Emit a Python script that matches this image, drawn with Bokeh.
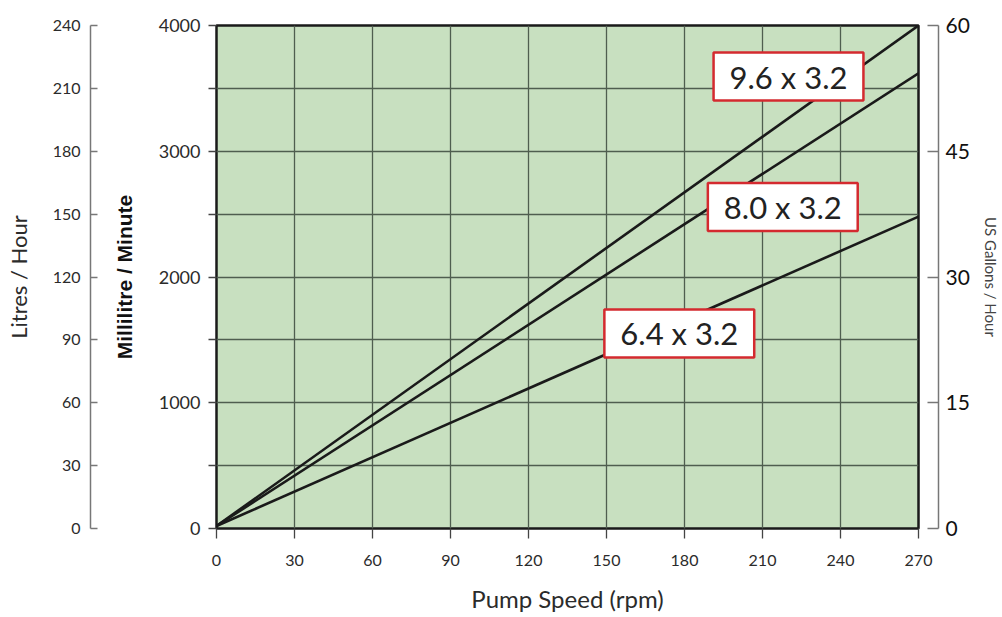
from bokeh.plotting import figure
from bokeh.models import (Range1d, LinearAxis, FixedTicker, Label)
from bokeh.embed import file_html
from bokeh.resources import INLINE

# ---- data ----
speed_rpm = [0, 270]
ml_min_96 = [20, 4000]
ml_min_80 = [20, 3620]
ml_min_64 = [20, 2480]
series_names = ["9.6 x 3.2", "8.0 x 3.2", "6.4 x 3.2"]

x_ticks = [0, 30, 60, 90, 120, 150, 180, 210, 240, 270]
ml_ticks = [0, 1000, 2000, 3000, 4000]
ml_minor = [500, 1500, 2500, 3500]
lph_ticks = [0, 30, 60, 90, 120, 150, 180, 210, 240]
gph_ticks = [0, 15, 30, 45, 60]
grid_y = [0, 500, 1000, 1500, 2000, 2500, 3000, 3500, 4000]

# annotation anchors
label_pos = [(220, 3594), (217.8, 2557), (178, 1551)]

FONT = "Lato"
TXT = "#2b2b2b"

p = figure(width=1002, height=617, output_backend="svg", toolbar_location=None,
           x_range=Range1d(0, 270), y_range=Range1d(0, 4000),
           min_border_left=216, min_border_right=82, min_border_top=25,
           min_border_bottom=89, background_fill_color="#c8e0c0",
           border_fill_color="white", outline_line_color="#1a1a1a",
           outline_line_width=2.5)

p.extra_y_ranges = {"lph": Range1d(0, 240), "gph": Range1d(0, 60)}

# grids
p.xgrid.ticker = FixedTicker(ticks=x_ticks)
p.ygrid.ticker = FixedTicker(ticks=grid_y)
for g in (p.xgrid[0], p.ygrid[0]):
    g.grid_line_color = "#4f5e4f"
    g.grid_line_width = 1.3

# x axis
xa = p.xaxis[0]
xa.ticker = FixedTicker(ticks=x_ticks)
xa.axis_line_color = None
xa.major_tick_out = 10
xa.major_tick_in = 0
xa.major_tick_line_color = "#444444"
xa.major_tick_line_width = 1.3
xa.minor_tick_line_color = None
xa.major_label_standoff = 16
xa.major_label_text_font = FONT
xa.major_label_text_font_size = "16px"
xa.major_label_text_color = TXT
xa.axis_label = "Pump Speed (rpm)"
xa.axis_label_text_font = FONT
xa.axis_label_text_font_size = "24px"
xa.axis_label_text_font_style = "normal"
xa.axis_label_text_color = TXT
xa.axis_label_standoff = 15

# main y axis (mL/min)
ya = p.yaxis[0]
ya.ticker = FixedTicker(ticks=ml_ticks, minor_ticks=ml_minor)
ya.axis_line_color = None
ya.major_tick_out = 8
ya.major_tick_in = 0
ya.minor_tick_out = 8
ya.minor_tick_in = 0
ya.major_tick_line_color = "#444444"
ya.minor_tick_line_color = "#444444"
ya.major_tick_line_width = 1.3
ya.minor_tick_line_width = 1.3
ya.major_label_standoff = 8
ya.major_label_text_font = FONT
ya.major_label_text_font_size = "18px"
ya.major_label_text_color = TXT
ya.axis_label = "Millilitre / Minute"
ya.axis_label_text_font = "Liberation Sans"
ya.axis_label_text_font_size = "21px"
ya.axis_label_text_font_style = "bold"
ya.axis_label_text_color = "#111111"
ya.axis_label_standoff = 20


def spacer(size):
    s = LinearAxis(ticker=FixedTicker(ticks=[]), axis_line_color=None,
                   major_tick_line_color=None, minor_tick_line_color=None,
                   major_tick_out=0, major_tick_in=0, minor_tick_out=0,
                   major_label_text_font_size="0px", axis_label=" ",
                   axis_label_standoff=0, axis_label_text_color="white",
                   axis_label_text_font=FONT,
                   axis_label_text_font_size=size)
    return s


p.add_layout(spacer("13px"), "left")

# far-left axis (Litres / Hour)
la = LinearAxis(y_range_name="lph", ticker=FixedTicker(ticks=lph_ticks))
la.axis_line_color = "#777777"
la.axis_line_width = 1.5
la.major_tick_out = 0
la.major_tick_in = 7
la.major_tick_line_color = "#777777"
la.major_tick_line_width = 1.5
la.minor_tick_line_color = None
la.major_label_standoff = 10
la.major_label_text_font = FONT
la.major_label_text_font_size = "16px"
la.major_label_text_color = TXT
la.axis_label = "Litres / Hour"
la.axis_label_text_font = FONT
la.axis_label_text_font_size = "22px"
la.axis_label_text_font_style = "normal"
la.axis_label_text_color = TXT
la.axis_label_standoff = 18
p.add_layout(la, "left")

# right side: spacer then gallons axis
p.add_layout(spacer("14px"), "right")
ra = LinearAxis(y_range_name="gph", ticker=FixedTicker(ticks=gph_ticks))
ra.axis_line_color = "#777777"
ra.axis_line_width = 1.5
ra.major_tick_out = 0
ra.major_tick_in = 11
ra.major_tick_line_color = "#777777"
ra.major_tick_line_width = 1.5
ra.minor_tick_line_color = None
ra.major_label_standoff = 7
ra.major_label_text_font = FONT
ra.major_label_text_font_size = "21px"
ra.major_label_text_color = "#111111"
ra.axis_label = "US Gallons / Hour"
ra.axis_label_text_font = FONT
ra.axis_label_text_font_size = "15px"
ra.axis_label_text_font_style = "normal"
ra.axis_label_text_color = "#444444"
ra.axis_label_standoff = 9
p.add_layout(ra, "right")

# lines
for ys in (ml_min_96, ml_min_80, ml_min_64):
    p.line(speed_rpm, ys, line_color="#1a1a1a", line_width=2.6)

# series labels
for name, (lx, ly) in zip(series_names, label_pos):
    p.add_layout(Label(x=lx, y=ly, text=name, text_align="center",
                       text_baseline="middle", text_font=FONT,
                       text_font_size="31px", text_color="#222222",
                       background_fill_color="white",
                       border_line_color="#d42a2f", border_line_width=2.5,
                       padding=dict(left=16, right=16, top=5, bottom=5)))

open("out.html", "w").write(file_html(p, INLINE))
